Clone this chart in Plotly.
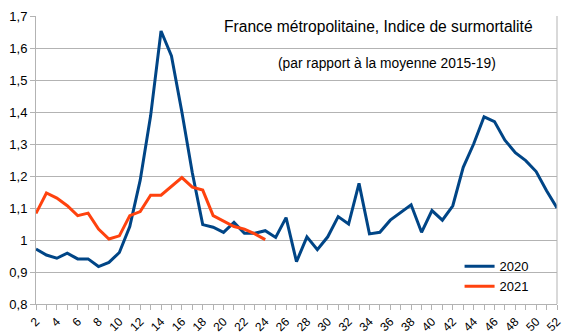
import plotly.graph_objects as go

weeks_2020 = list(range(2, 53))
values_2020 = [0.972, 0.953, 0.943, 0.959, 0.941, 0.941, 0.917, 0.930, 0.961, 1.042,
               1.187, 1.388, 1.653, 1.575, 1.400, 1.210, 1.048, 1.040, 1.024, 1.055,
               1.021, 1.021, 1.029, 1.008, 1.070, 0.932, 1.010, 0.970, 1.010, 1.073,
               1.050, 1.177, 1.019, 1.024, 1.062, 1.086, 1.110, 1.024, 1.092, 1.062,
               1.107, 1.227, 1.300, 1.385, 1.370, 1.312, 1.273, 1.248, 1.214, 1.154,
               1.100]

weeks_2021 = list(range(2, 25))
values_2021 = [1.083, 1.147, 1.131, 1.107, 1.076, 1.084, 1.034, 1.003, 1.013, 1.076,
               1.089, 1.140, 1.140, 1.167, 1.195, 1.165, 1.156, 1.076, 1.058, 1.042,
               1.034, 1.019, 1.001]

series_names = ["2020", "2021"]
x_tick_vals = list(range(2, 53, 2))
y_tick_vals = [0.8, 0.9, 1.0, 1.1, 1.2, 1.3, 1.4, 1.5, 1.6, 1.7]
title_text = "France métropolitaine, Indice de surmortalité"
subtitle_text = "(par rapport à la moyenne 2015-19)"

FONT = "Liberation Sans, Arial, sans-serif"
GRID = "#b3b3b3"

fig = go.Figure()
fig.add_trace(go.Scatter(x=weeks_2020, y=values_2020, mode="lines", name=series_names[0],
                         line=dict(color="#004586", width=3)))
fig.add_trace(go.Scatter(x=weeks_2021, y=values_2021, mode="lines", name=series_names[1],
                         line=dict(color="#ff420e", width=3)))

fig.update_layout(
    width=568, height=336,
    margin=dict(l=36, r=11, t=16, b=32, autoexpand=False),
    paper_bgcolor="white", plot_bgcolor="white",
    separators=", ",
    font=dict(family=FONT, size=12, color="#000000"),
    showlegend=True,
    legend=dict(x=0.813, y=0.183, xanchor="left", yanchor="top",
                bgcolor="rgba(0,0,0,0)", font=dict(size=13, color="#000000"),
                tracegroupgap=0, itemwidth=30),
    xaxis=dict(range=[2, 52], tickvals=x_tick_vals, ticktext=[str(v) for v in x_tick_vals],
               tickangle=-45, ticks="outside", ticklen=5, tickcolor=GRID, automargin=False,
               minor=dict(dtick=1, ticks="outside", ticklen=5, tickcolor=GRID, showgrid=False),
               showgrid=False, zeroline=False, showline=True, linecolor=GRID, linewidth=1,
               tickfont=dict(size=12, color="#000000"), fixedrange=True),
    yaxis=dict(range=[0.8, 1.7], tickvals=y_tick_vals, tickformat=".1~f",
               ticks="outside", ticklen=5, tickcolor=GRID, automargin=False,
               showgrid=True, gridcolor=GRID, gridwidth=1, zeroline=False,
               showline=True, linecolor=GRID, mirror=False,
               tickfont=dict(size=13, color="#000000"), fixedrange=True),
    shapes=[dict(type="line", xref="paper", yref="paper", x0=1, x1=1, y0=0, y1=1,
                 line=dict(color=GRID, width=1))],
    annotations=[
        dict(text=title_text, xref="paper", yref="paper", x=0.658, y=0.962,
             xanchor="center", yanchor="middle", showarrow=False,
             font=dict(size=15.6, color="#000000")),
        dict(text=subtitle_text, xref="paper", yref="paper", x=0.674, y=0.835,
             xanchor="center", yanchor="middle", showarrow=False,
             font=dict(size=13.8, color="#000000")),
    ],
)

fig.write_html("out.html")
